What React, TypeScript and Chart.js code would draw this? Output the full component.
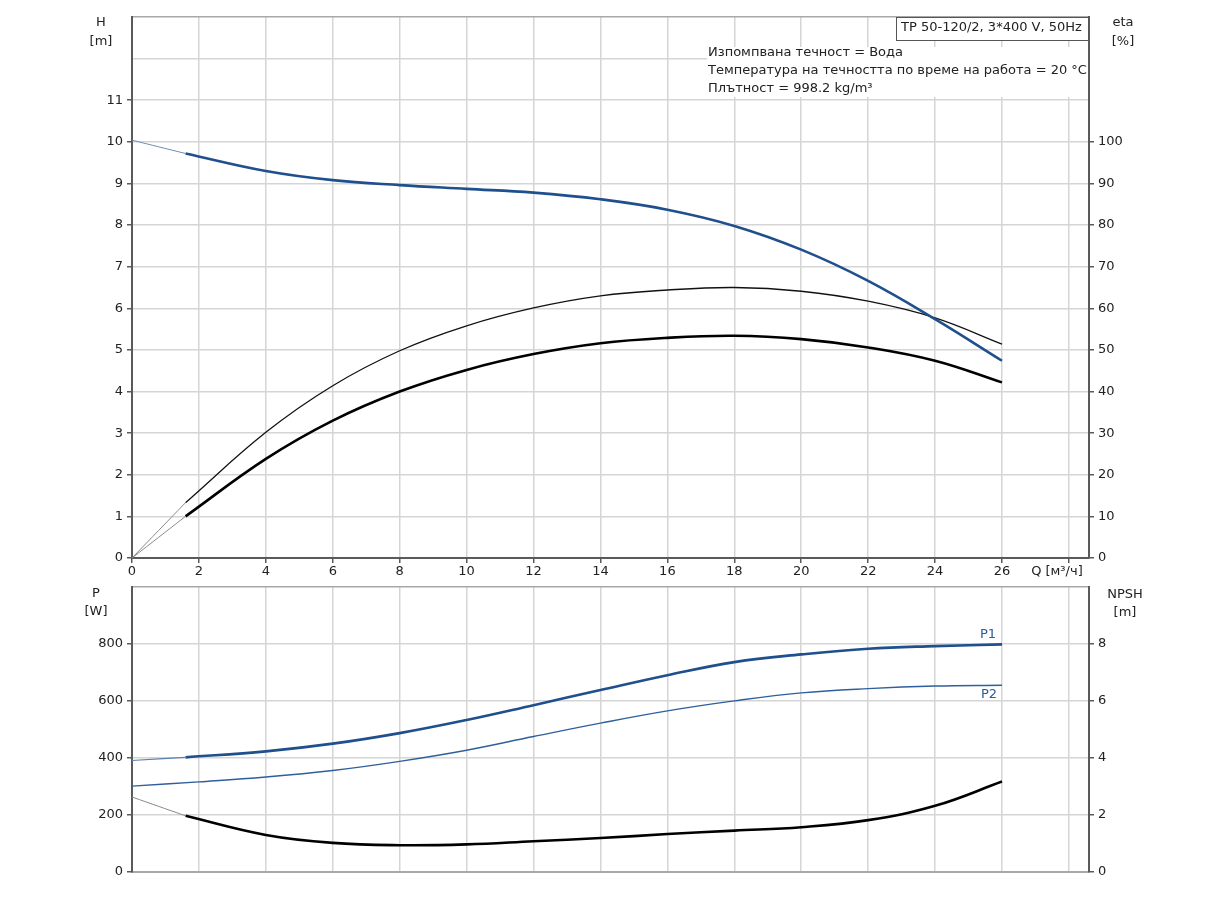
import React, { useEffect, useRef } from "react";
import { Chart, registerables } from "chart.js";

Chart.register(...registerables);

// flow Q [m³/h]
const flowStart = [0, 1.6];
const flow = [1.6, 4, 6, 8, 10, 12, 14, 16, 18, 20, 22, 24, 26];
const flowFull = [0, 2, 4, 6, 8, 10, 12, 14, 16, 18, 20, 22, 24, 26];

// head H [m]
const headStart = [10.04, 9.72];
const head = [9.72, 9.3, 9.08, 8.96, 8.87, 8.78, 8.62, 8.37, 7.98, 7.41, 6.66, 5.74, 4.74];

// efficiency [%] (thin = hydraulic, thick = total)
const etaStart = [0, 13.3];
const eta = [13.3, 30.2, 41.4, 49.8, 55.8, 60.1, 63.0, 64.4, 65.0, 64.1, 61.7, 57.7, 51.4];
const etaTotalStart = [0, 10];
const etaTotal = [10, 23.8, 33, 40, 45.2, 49, 51.6, 52.9, 53.4, 52.6, 50.6, 47.4, 42.2];

// power [W]
const p1Start = [391, 402];
const p1 = [402, 423, 450, 487, 533, 585, 638, 690, 736, 763, 783, 792, 798];
const p2 = [301, 316, 333, 356, 388, 427, 475, 522, 565, 600, 628, 643, 652, 655];

// NPSH [m]
const npshStart = [2.63, 1.97];
const npsh = [1.97, 1.3, 1.02, 0.94, 0.97, 1.08, 1.19, 1.33, 1.45, 1.57, 1.82, 2.32, 3.17];

const infoTitle = "TP 50-120/2, 3*400 V, 50Hz";
const infoLines = [
  "Изпомпвана течност = Вода",
  "Температура на течността по време на работа = 20 °C",
  "Плътност = 998.2 kg/m³",
];

const FONT = "'DejaVu Sans', 'Liberation Sans', sans-serif";
const font = { family: FONT, size: 13 };
const BLUE = "#1f4f8c";
const AXIS = "#5a5a5a";
const GRID = "#d5d5d5";
const TEXT = "#222";
const NONE = "rgba(0,0,0,0)";

const pts = (xs: number[], ys: number[]) => xs.map((x, i) => ({ x, y: ys[i] }));

function line(xs: number[], ys: number[], color: string, width: number, axis: string) {
  return {
    data: pts(xs, ys),
    borderColor: color,
    borderWidth: width,
    pointRadius: 0,
    tension: 0.4,
    yAxisID: axis,
    borderCapStyle: "butt" as const,
  };
}

function xScale(top: boolean) {
  return {
    type: "linear" as const,
    min: 0,
    max: 28.6,
    ticks: {
      display: top,
      stepSize: 2,
      includeBounds: false,
      autoSkip: false,
      maxRotation: 0,
      font,
      color: TEXT,
      padding: 1,
      callback: (v: any) => (v <= 26 ? String(v) : ""),
    },
    grid: {
      color: GRID,
      lineWidth: 1.5,
      drawTicks: top,
      tickLength: 5,
      tickColor: AXIS,
      tickWidth: 1.5,
    },
    border: { color: top ? AXIS : "#a8a8a8", width: 2 },
    afterFit: (s: any) => {
      s.height = top ? 22 : 28;
    },
  };
}

function yScale(pos: "left" | "right", max: number, step: number, labelMax: number, grid: boolean) {
  return {
    type: "linear" as const,
    position: pos,
    min: 0,
    max,
    ticks: {
      stepSize: step,
      includeBounds: false,
      autoSkip: false,
      font,
      color: TEXT,
      padding: 4,
      callback: (v: any) => (v <= labelMax ? String(v) : ""),
    },
    grid: {
      drawOnChartArea: grid,
      color: (c: any) => (c.tick && c.tick.value === max ? "#a8a8a8" : GRID),
      lineWidth: 1.5,
      tickLength: 5,
      tickWidth: 1.5,
      tickColor: (c: any) => (c.tick && c.tick.value <= labelMax ? AXIS : NONE),
    },
    border: { color: AXIS, width: 2 },
    afterFit: (s: any) => {
      s.width = pos === "left" ? 132 : 135;
    },
  };
}

const topDecor = {
  id: "topDecor",
  afterDraw(chart: any) {
    const { ctx, chartArea: a } = chart;
    ctx.save();
    ctx.font = `13px ${FONT}`;
    ctx.fillStyle = TEXT;
    ctx.textAlign = "center";
    ctx.textBaseline = "middle";
    ctx.fillText("H", a.left - 31, a.top + 6);
    ctx.fillText("[m]", a.left - 31, a.top + 25);
    ctx.fillText("eta", a.right + 34, a.top + 6);
    ctx.fillText("[%]", a.right + 34, a.top + 25);
    ctx.fillText("Q [м³/ч]", chart.scales.x.getPixelForValue(28) - 12, a.bottom + 14);

    // info block
    ctx.fillStyle = "#fff";
    ctx.fillRect(a.right - 382, a.top + 30, 381, 50);
    ctx.fillRect(a.right - 192, a.top + 1, 191, 22);
    ctx.strokeStyle = "#555";
    ctx.lineWidth = 1;
    ctx.strokeRect(a.right - 192.5, a.top + 0.5, 192, 23);
    ctx.fillStyle = TEXT;
    ctx.textAlign = "left";
    ctx.fillText(infoTitle, a.right - 188, a.top + 11);
    infoLines.forEach((t, i) => ctx.fillText(t, a.right - 381, a.top + 36 + i * 18));
    ctx.restore();
  },
};

const bottomDecor = {
  id: "bottomDecor",
  afterDraw(chart: any) {
    const { ctx, chartArea: a, scales } = chart;
    ctx.save();
    ctx.font = `13px ${FONT}`;
    ctx.fillStyle = TEXT;
    ctx.textAlign = "center";
    ctx.textBaseline = "middle";
    ctx.fillText("P", a.left - 36, a.top + 7);
    ctx.fillText("[W]", a.left - 36, a.top + 25);
    ctx.fillText("NPSH", a.right + 36, a.top + 8);
    ctx.fillText("[m]", a.right + 36, a.top + 26);
    const xe = scales.x.getPixelForValue(flow[flow.length - 1]);
    ctx.fillStyle = "#2a5b9a";
    ctx.fillText("P1", xe - 14, scales.p.getPixelForValue(p1[p1.length - 1]) - 10);
    ctx.fillText("P2", xe - 13, scales.p.getPixelForValue(p2[p2.length - 1]) + 9);
    ctx.restore();
  },
};

function makeTop(canvas: HTMLCanvasElement) {
  return new Chart(canvas, {
    type: "line",
    data: {
      datasets: [
        line(flowStart, headStart, "#6f8db4", 1, "h"),
        line(flow, head, BLUE, 2.6, "h"),
        line(flowStart, etaStart, "#8a8a8a", 1, "eta"),
        line(flow, eta, "#111", 1.3, "eta"),
        line(flowStart, etaTotalStart, "#8a8a8a", 1, "eta"),
        line(flow, etaTotal, "#000", 2.6, "eta"),
      ],
    },
    options: {
      animation: false,
      responsive: false,
      layout: { padding: { top: 17, left: 0, right: 0, bottom: 0 } },
      plugins: { legend: { display: false }, tooltip: { enabled: false } },
      scales: {
        x: xScale(true),
        h: yScale("left", 13, 1, 11, true),
        eta: yScale("right", 130, 10, 100, false),
      } as any,
    },
    plugins: [topDecor],
  });
}

function makeBottom(canvas: HTMLCanvasElement) {
  return new Chart(canvas, {
    type: "line",
    data: {
      datasets: [
        line(flowStart, p1Start, "#5f80ad", 1.2, "p"),
        line(flow, p1, BLUE, 2.6, "p"),
        line(flowFull, p2, "#2f5f9c", 1.4, "p"),
        line(flowStart, npshStart, "#8a8a8a", 1, "npsh"),
        line(flow, npsh, "#000", 2.6, "npsh"),
      ],
    },
    options: {
      animation: false,
      responsive: false,
      layout: { padding: { top: 8, left: 0, right: 0, bottom: 0 } },
      plugins: { legend: { display: false }, tooltip: { enabled: false } },
      scales: {
        x: xScale(false),
        p: yScale("left", 1000, 200, 800, true),
        npsh: yScale("right", 10, 2, 8, false),
      } as any,
    },
    plugins: [bottomDecor],
  });
}

export default function App() {
  const topRef = useRef<HTMLCanvasElement>(null);
  const bottomRef = useRef<HTMLCanvasElement>(null);

  useEffect(() => {
    if (!topRef.current || !bottomRef.current) return;
    const top = makeTop(topRef.current);
    const bottom = makeBottom(bottomRef.current);
    return () => {
      top.destroy();
      bottom.destroy();
    };
  }, []);

  return (
    <div style={{ position: "absolute", left: 0, top: 0, width: 1224, height: 900, background: "#fff" }}>
      <canvas ref={topRef} width={1224} height={580} style={{ position: "absolute", left: 0, top: 0 }} />
      <canvas ref={bottomRef} width={1224} height={325} style={{ position: "absolute", left: 0, top: 575 }} />
    </div>
  );
}
